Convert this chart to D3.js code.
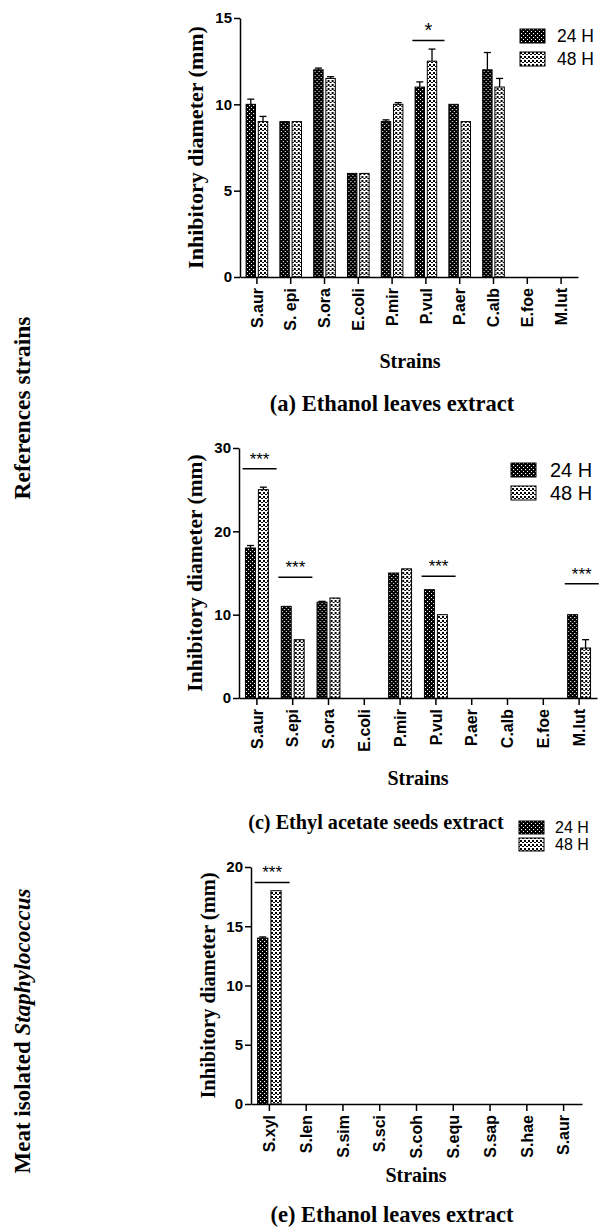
<!DOCTYPE html>
<html>
<head>
<meta charset="utf-8">
<script src="https://cdn.jsdelivr.net/npm/d3@7"></script>
<style>
  body { margin: 0; background: #fff; }
  svg { display: block; }
</style>
</head>
<body>
<svg id="fig" width="599" height="1227"></svg>
<script>
// Data
const series = ['24 H', '48 H'];

// (a) Ethanol leaves extract
const strainsA = ['S.aur', 'S. epi', 'S.ora', 'E.coli', 'P.mir', 'P.vul', 'P.aer', 'C.alb', 'E.foe', 'M.lut'];
const a24 = [10, 9, 12, 6, 9, 11, 10, 12, 0, 0];
const a48 = [9, 9, 11.5, 6, 10, 12.5, 9, 11, 0, 0];
const a24Err = [0.3, 0, 0.1, 0, 0.1, 0.3, 0, 1, 0, 0];
const a48Err = [0.3, 0, 0.1, 0, 0.1, 0.7, 0, 0.5, 0, 0];
const aSig = [{ strain: 'P.vul', y: 13.7, label: '*' }];
const aTicks = [0, 5, 10, 15];

// (c) Ethyl acetate seeds extract
const strainsC = ['S.aur', 'S.epi', 'S.ora', 'E.coli', 'P.mir', 'P.vul', 'P.aer', 'C.alb', 'E.foe', 'M.lut'];
const c24 = [18, 11, 11.5, 0, 15, 13, 0, 0, 0, 10];
const c48 = [25, 7, 12, 0, 15.5, 10, 0, 0, 0, 6];
const c24Err = [0.3, 0, 0.1, 0, 0, 0, 0, 0, 0, 0];
const c48Err = [0.3, 0, 0, 0, 0, 0, 0, 0, 0, 1];
const cSig = [
  { strain: 'S.aur', y: 27.5, label: '***' },
  { strain: 'S.epi', y: 14.5, label: '***' },
  { strain: 'P.vul', y: 14.6, label: '***' },
  { strain: 'M.lut', y: 13.7, label: '***' }
];
const cTicks = [0, 10, 20, 30];

// (e) Ethanol leaves extract (meat isolates)
const strainsE = ['S.xyl', 'S.len', 'S.sim', 'S.sci', 'S.coh', 'S.equ', 'S.sap', 'S.hae', 'S.aur'];
const e24 = [14, 0, 0, 0, 0, 0, 0, 0, 0];
const e48 = [18, 0, 0, 0, 0, 0, 0, 0, 0];
const e24Err = [0.1, 0, 0, 0, 0, 0, 0, 0, 0];
const e48Err = [0, 0, 0, 0, 0, 0, 0, 0, 0];
const eSig = [{ strain: 'S.xyl', y: 18.7, label: '***' }];
const eTicks = [0, 5, 10, 15, 20];

const svg = d3.select('#fig');
const SANS = "'Liberation Sans', Arial, sans-serif";
const SERIF = "'Liberation Serif', 'Times New Roman', serif";

// hatch patterns for the two series
const defs = svg.append('defs');
const p24 = defs.append('pattern').attr('id', 'pat24')
  .attr('patternUnits', 'userSpaceOnUse').attr('width', 4).attr('height', 4);
p24.append('rect').attr('width', 4).attr('height', 4).attr('fill', '#000');
p24.append('rect').attr('x', 1).attr('y', 1).attr('width', 1.1).attr('height', 1.1).attr('fill', '#fff');
p24.append('rect').attr('x', 3).attr('y', 3).attr('width', 1.1).attr('height', 1.1).attr('fill', '#fff');

const p48 = defs.append('pattern').attr('id', 'pat48')
  .attr('patternUnits', 'userSpaceOnUse').attr('width', 4).attr('height', 4);
p48.append('rect').attr('width', 4).attr('height', 4).attr('fill', '#fff');
p48.append('rect').attr('x', 0).attr('y', 0).attr('width', 2).attr('height', 2).attr('fill', '#000');
p48.append('rect').attr('x', 2).attr('y', 2).attr('width', 2).attr('height', 1).attr('fill', '#000');

const fills = { '24 H': 'url(#pat24)', '48 H': 'url(#pat48)' };

function drawChart(cfg) {
  const g = svg.append('g');

  const x = d3.scaleBand().domain(cfg.strains).range([cfg.x0, cfg.x1]).padding(0);
  const y = d3.scaleLinear().domain([0, cfg.yMax]).range([cfg.yBottom, cfg.yTop]);
  const half = x.bandwidth() * 0.32;
  const xSub = d3.scaleBand().domain(series)
    .range([x.bandwidth() / 2 - half, x.bandwidth() / 2 + half]).paddingInner(0.23);

  const rows = cfg.strains.map((s, i) => ({
    strain: s,
    vals: [
      { key: '24 H', v: cfg.v24[i], e: cfg.e24[i] },
      { key: '48 H', v: cfg.v48[i], e: cfg.e48[i] }
    ]
  }));

  const groups = g.selectAll('.grp').data(rows).join('g')
    .attr('transform', d => `translate(${x(d.strain)},0)`);

  // error bars (upper only)
  groups.selectAll('.err').data(d => d.vals.filter(v => v.e > 0)).join('g')
    .each(function (d) {
      const cx = xSub(d.key) + xSub.bandwidth() / 2;
      const gg = d3.select(this);
      gg.append('line').attr('x1', cx).attr('x2', cx)
        .attr('y1', y(d.v)).attr('y2', y(d.v + d.e))
        .attr('stroke', '#000').attr('stroke-width', 1.3);
      gg.append('line').attr('x1', cx - 3.5).attr('x2', cx + 3.5)
        .attr('y1', y(d.v + d.e)).attr('y2', y(d.v + d.e))
        .attr('stroke', '#000').attr('stroke-width', 1.3);
    });

  groups.selectAll('rect').data(d => d.vals.filter(v => v.v > 0)).join('rect')
    .attr('x', d => xSub(d.key))
    .attr('width', xSub.bandwidth())
    .attr('y', d => y(d.v))
    .attr('height', d => y(0) - y(d.v))
    .attr('fill', d => fills[d.key])
    .attr('stroke', '#000')
    .attr('stroke-width', 1);

  // axes
  const yAxis = g.append('g')
    .attr('transform', `translate(${cfg.x0},0)`)
    .call(d3.axisLeft(y).tickValues(cfg.ticks).tickSize(6).tickSizeOuter(0).tickPadding(2));
  yAxis.selectAll('text').attr('font-family', SANS).attr('font-weight', 'bold')
    .attr('font-size', '15px').attr('fill', '#000');

  const xAxis = g.append('g')
    .attr('transform', `translate(0,${cfg.yBottom})`)
    .call(d3.axisBottom(x).tickSize(7).tickSizeOuter(0));
  xAxis.selectAll('text')
    .attr('font-family', SANS).attr('font-weight', 'bold').attr('font-size', '16px')
    .attr('fill', '#000')
    .attr('transform', 'rotate(-90)')
    .attr('text-anchor', 'end')
    .attr('x', -11).attr('y', 0).attr('dy', '0.36em');

  [yAxis, xAxis].forEach(a => {
    a.selectAll('path, line').attr('stroke', '#000').attr('stroke-width', 1.5);
  });

  // significance markers
  cfg.sig.forEach(s => {
    const cx = x(s.strain) + x.bandwidth() / 2;
    const xl = cx - x.bandwidth() * 0.4;
    const xr = cx + x.bandwidth() * 0.55;
    const ys = y(s.y);
    g.append('line').attr('x1', xl).attr('x2', xr).attr('y1', ys).attr('y2', ys)
      .attr('stroke', '#000').attr('stroke-width', 1.5);
    g.append('text').attr('x', (xl + xr) / 2).attr('y', ys + cfg.starDy)
      .attr('text-anchor', 'middle').attr('font-family', SANS)
      .attr('font-size', cfg.starSize + 'px').text(s.label);
  });

  // legend
  series.forEach((s, i) => {
    const ly = cfg.legY + i * cfg.legStep;
    g.append('rect').attr('x', cfg.legX).attr('y', ly)
      .attr('width', 25).attr('height', cfg.legH)
      .attr('fill', fills[s]).attr('stroke', '#000').attr('stroke-width', 1);
    g.append('text').attr('x', cfg.legX + cfg.legTextDx).attr('y', ly + cfg.legH / 2)
      .attr('dy', '0.36em').attr('font-family', SANS).attr('font-size', cfg.legSize + 'px')
      .text(s);
  });

  // axis titles
  g.append('text')
    .attr('transform', `translate(${cfg.yTitleX},${(cfg.yTop + cfg.yBottom) / 2}) rotate(-90)`)
    .attr('text-anchor', 'middle').attr('dy', '0.35em')
    .attr('font-family', SERIF).attr('font-weight', 'bold')
    .attr('font-size', cfg.yTitleSize + 'px')
    .text('Inhibitory diameter (mm)');

  g.append('text').attr('x', cfg.xTitleX).attr('y', cfg.xTitleY)
    .attr('text-anchor', 'middle')
    .attr('font-family', SERIF).attr('font-weight', 'bold').attr('font-size', '20px')
    .text('Strains');

  g.append('text').attr('x', cfg.captionX).attr('y', cfg.captionY)
    .attr('text-anchor', 'middle')
    .attr('font-family', SERIF).attr('font-weight', 'bold')
    .attr('font-size', cfg.captionSize + 'px')
    .text(cfg.caption);
}

drawChart({
  strains: strainsA, v24: a24, v48: a48, e24: a24Err, e48: a48Err, sig: aSig, ticks: aTicks,
  x0: 240, x1: 578, yTop: 18, yBottom: 277, yMax: 15,
  starDy: -3, starSize: 20,
  legX: 520, legY: 29, legStep: 23, legH: 14, legTextDx: 37, legSize: 17.5,
  yTitleX: 195, yTitleSize: 22, xTitleX: 410, xTitleY: 368,
  caption: '(a) Ethanol leaves extract', captionX: 392, captionY: 411, captionSize: 22.5
});

drawChart({
  strains: strainsC, v24: c24, v48: c48, e24: c24Err, e48: c48Err, sig: cSig, ticks: cTicks,
  x0: 239, x1: 597, yTop: 448, yBottom: 698, yMax: 30,
  starDy: -4, starSize: 17,
  legX: 511, legY: 463, legStep: 23, legH: 14, legTextDx: 39, legSize: 20,
  yTitleX: 194, yTitleSize: 21.5, xTitleX: 418, xTitleY: 785,
  caption: '(c) Ethyl acetate seeds extract', captionX: 376, captionY: 829, captionSize: 20.2
});

drawChart({
  strains: strainsE, v24: e24, v48: e48, e24: e24Err, e48: e48Err, sig: eSig, ticks: eTicks,
  x0: 251, x1: 582, yTop: 867, yBottom: 1104, yMax: 20,
  starDy: -4, starSize: 17,
  legX: 519, legY: 821, legStep: 17, legH: 13, legTextDx: 36, legSize: 16,
  yTitleX: 208, yTitleSize: 20.5, xTitleX: 416, xTitleY: 1182,
  caption: '(e) Ethanol leaves extract', captionX: 392, captionY: 1222, captionSize: 22.5
});

// row labels on the left
svg.append('text')
  .attr('transform', 'translate(22,408) rotate(-90)')
  .attr('text-anchor', 'middle').attr('dy', '0.35em')
  .attr('font-family', SERIF).attr('font-weight', 'bold').attr('font-size', '23.5px')
  .text('References strains');

const side2 = svg.append('text')
  .attr('transform', 'translate(22,1031) rotate(-90)')
  .attr('text-anchor', 'middle').attr('dy', '0.35em')
  .attr('font-family', SERIF).attr('font-weight', 'bold').attr('font-size', '23px');
side2.append('tspan').text('Meat isolated ');
side2.append('tspan').attr('font-style', 'italic').text('Staphylococcus');
</script>
</body>
</html>
